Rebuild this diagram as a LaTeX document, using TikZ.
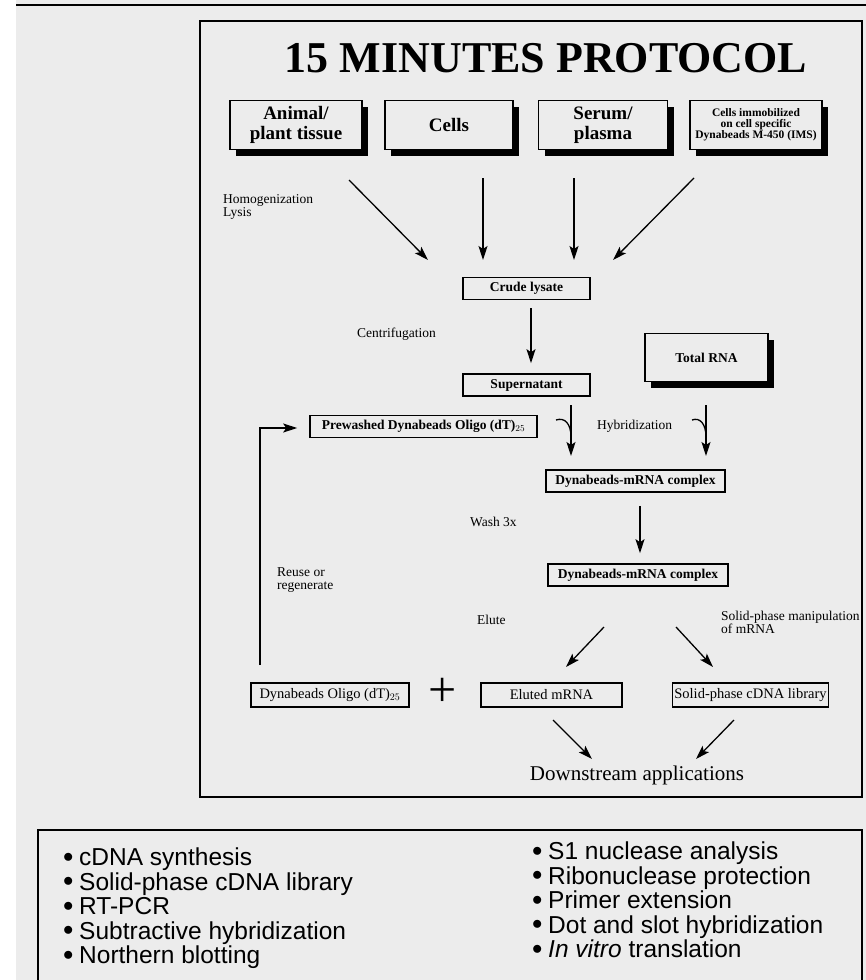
\documentclass[tikz,border=0pt]{standalone}
\usepackage{fontspec}
\setmainfont{Liberation Serif}
\newfontfamily\listfont{Liberation Sans}
\usetikzlibrary{arrows.meta,shadows,positioning}
\definecolor{paper}{RGB}{236,236,236}
\newcommand{\appitem}[1]{\makebox[16pt][l]{\raisebox{3.5pt}{\fontsize{20}{20}\selectfont$\bullet$}}#1}

\begin{document}
\begin{tikzpicture} [x=1pt, y=-1pt,
    source/.style={rectangle, draw=black, line width=1.6pt, fill=paper, align=center,
        drop shadow={shadow xshift=6pt, shadow yshift=-6pt, fill=black, opacity=1},
        font=\bfseries\fontsize{19}{20}\selectfont, inner sep=2pt},
    stage/.style={rectangle, draw=black, line width=1.6pt, fill=paper, minimum height=22pt,
        inner sep=2pt, font=\bfseries\fontsize{13.5}{14}\selectfont},
    result/.style={stage, font=\fontsize{14.5}{15}\selectfont},
    note/.style={inner sep=0pt, align=left, font=\fontsize{13.5}{13}\selectfont},
    apps/.style={inner sep=0pt, align=left, font=\listfont\fontsize{24.5}{24.5}\selectfont},
    >={Stealth[length=14pt,width=9pt,inset=3pt]},
    flow/.style={->, line width=1.3pt}
    ]
    \useasboundingbox (0,0) rectangle (866,980);
    \fill[paper] (16,0) rectangle (866,980);
    \draw[line width=2pt] (16,5) -- (866,5);

    %Frames
    \draw[line width=1.5pt] (200,21) rectangle (862,797);
    \draw[line width=1.5pt] (38,980) -- (38,830) -- (862,830) -- (862,980);

    %Nodes
    \node[font=\bfseries\fontsize{44}{44}\selectfont] (title) at (546,58) {15 MINUTES PROTOCOL};
    \node[source, minimum width=132pt, minimum height=49pt] (tissue) at (296,125) {Animal/\\plant tissue};
    \node[source, minimum width=128pt, minimum height=49pt] (cells)  at (449,125) {Cells};
    \node[source, minimum width=129pt, minimum height=49pt] (serum)  at (603,125) {Serum/\\plasma};
    \node[source, minimum width=132pt, minimum height=49pt,
          font=\bfseries\fontsize{11.5}{11}\selectfont] (ims) at (756,125)
          {Cells immobilized\\on cell specific\\Dynabeads M-450 (IMS)};
    \node[stage, minimum width=127pt] (crude) at (526.5,288.5) {Crude lysate};
    \node[stage, minimum width=127pt] (super) at (526.5,385) {Supernatant};
    \node[source, minimum width=123pt, minimum height=48pt,
          font=\bfseries\fontsize{13.5}{14}\selectfont] (rna) at (706.5,357.5) {Total RNA};
    \node[stage, minimum width=227pt] (prebeads) at (423.5,426.5) {Prewashed Dynabeads Oligo (dT)$_{25}$};
    \node[stage, minimum width=179pt] (cxa) at (635.5,481) {Dynabeads-mRNA complex};
    \node[stage, minimum width=180pt] (cxb) at (638,575) {Dynabeads-mRNA complex};
    \node[result, minimum width=158pt, minimum height=24pt] (beads) at (330,695) {Dynabeads Oligo (dT)$_{25}$};
    \node[font=\fontsize{50}{50}\selectfont] (plus) at (443,692) {+};
    \node[result, minimum width=141pt, minimum height=24pt] (eluted) at (551.5,695) {Eluted mRNA};
    \node[result, minimum width=149pt, minimum height=24pt] (library) at (750.5,695) {Solid-phase cDNA library};
    \node[font=\fontsize{21}{22}\selectfont] (down) at (637,775) {Downstream applications};

    %Notes
    \node[note, anchor=north west] (homog) at (223,194) {Homogenization\\Lysis};
    \node[note, anchor=west] (centri) at (357,334) {Centrifugation};
    \node[note, anchor=west] (hybrid) at (597,426) {Hybridization};
    \node[note, anchor=west] (wash) at (470,522) {Wash 3x};
    \node[note, anchor=north west] (reuse) at (277,567) {Reuse or\\regenerate};
    \node[note, anchor=west] (elute) at (477,620) {Elute};
    \node[note, anchor=north west] (solid) at (721,611) {Solid-phase manipulation\\of mRNA};

    %Arrow ends
    \coordinate (t1) at (349,180);  \coordinate (c1) at (428,260);
    \coordinate (t2) at (483,178);  \coordinate (c2) at (483,260);
    \coordinate (t3) at (574,178);  \coordinate (c3) at (574,260);
    \coordinate (t4) at (694,178);  \coordinate (c4) at (613,260);
    \coordinate (supout) at (571,405);  \coordinate (cxain) at (571,456);
    \coordinate (rnaout) at (706,405);  \coordinate (cxbin) at (706,456);
    \coordinate (hookl) at (556,420);   \coordinate (hookr) at (692,420);
    \coordinate (e1) at (604,627);  \coordinate (e2) at (566,667);
    \coordinate (s1) at (676,627);  \coordinate (s2) at (713,667);
    \coordinate (d1) at (553,720);  \coordinate (d2) at (592,759);
    \coordinate (d3) at (734,720);  \coordinate (d4) at (696,759);
    \coordinate (back) at (260,665);

    %Lines
    \draw[flow] (t1) -- (c1);
    \draw[flow] (t2) -- (c2);
    \draw[flow] (t3) -- (c3);
    \draw[flow] (t4) -- (c4);
    \draw[flow, shorten <=8pt, shorten >=10pt] ([xshift=4.5pt]crude.south) -- ([xshift=4.5pt]super.north);
    \draw[flow] (supout) -- (cxain);
    \draw[line width=1.3pt] (hookl) .. controls (565,417) and (571,424) .. (571,437);
    \draw[flow] (rnaout) -- (cxbin);
    \draw[line width=1.3pt] (hookr) .. controls (700,417) and (706,424) .. (706,437);
    \draw[flow, shorten <=13pt, shorten >=10pt] ([xshift=4.5pt]cxa.south) -- ([xshift=2pt]cxb.north);
    \draw[flow] (e1) -- (e2);
    \draw[flow] (s1) -- (s2);
    \draw[flow, shorten >=12pt] (back) |- ([yshift=-1.5pt]prebeads.west);
    \draw[flow] (d1) -- (d2);
    \draw[flow] (d3) -- (d4);

    %Applications
    \node[apps, anchor=north west] (appsl) at (63,848)
        {\appitem{cDNA synthesis}\\ \appitem{Solid-phase cDNA library}\\ \appitem{RT-PCR}\\
         \appitem{Subtractive hybridization}\\ \appitem{Northern blotting}};
    \node[apps, anchor=north west] (appsr) at (532,842)
        {\appitem{S1 nuclease analysis}\\ \appitem{Ribonuclease protection}\\ \appitem{Primer extension}\\
         \appitem{Dot and slot hybridization}\\ \appitem{\textit{In vitro} translation}};
\end{tikzpicture}
\end{document}
